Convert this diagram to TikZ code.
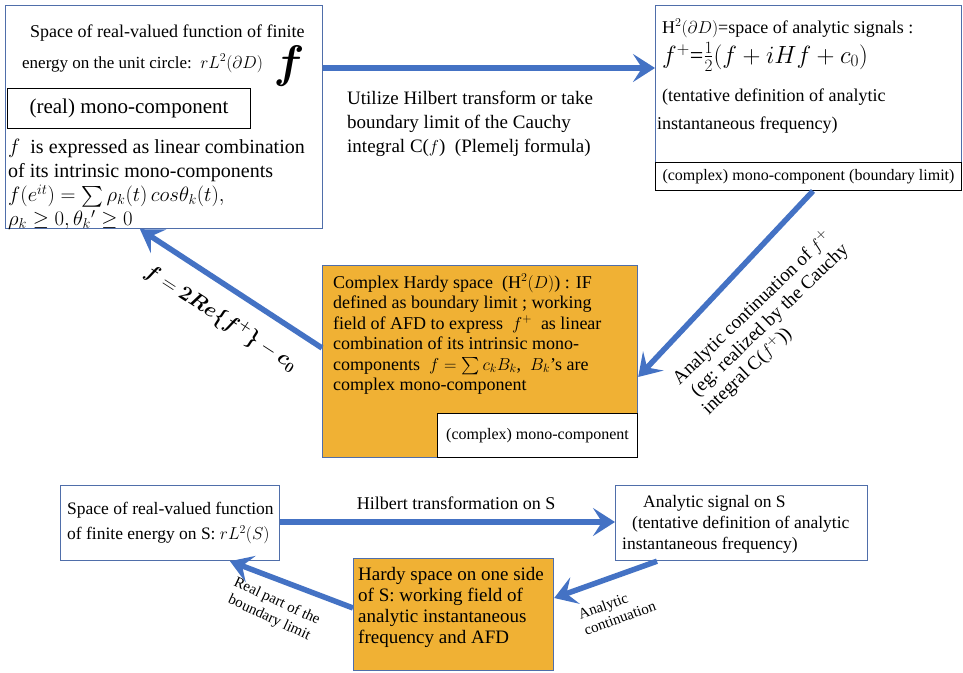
\documentclass[tikz,border=0pt]{standalone}
\usepackage{amsmath}
\usepackage{bm}
\usepackage{fontspec}
\setmainfont{Liberation Serif}
\usetikzlibrary{arrows.meta}
\definecolor{arrowblue}{RGB}{68,114,196}
\definecolor{boxblue}{RGB}{79,110,170}
\definecolor{hardy}{RGB}{240,177,52}
\newcommand{\fsz}[2]{\fontsize{#1}{#2}\selectfont}
\tikzset{
 bigarrow/.style={draw=arrowblue, line width=5.5pt, -{Stealth[length=22pt,width=28pt,inset=9pt]}},
 bluebox/.style={draw=boxblue, line width=1.2pt, inner sep=0pt, anchor=north west},
 blackbox/.style={draw=black, line width=1pt, inner sep=0pt, anchor=north west},
 orangebox/.style={bluebox, fill=hardy},
 txt/.style={inner sep=0pt, anchor=north west, align=left},
}
\begin{document}
\begin{tikzpicture}[x=1pt,y=-1pt]
\useasboundingbox (0,0) rectangle (963,672);
\fill[white] (0,0) rectangle (963,672);

% top-left
\node[bluebox, minimum width=317pt, minimum height=223pt] (tl) at (5,5) {};
\node[blackbox, fill=white, minimum width=243pt, minimum height=40pt, font=\fsz{21}{24}] (tlmono) at (7,88) {(real) mono-component};
\node[txt, font=\fsz{18}{21}] (tl1) at (30,25) {Space of real-valued function of finite};
\node[txt, font=\fsz{17}{20}] (tl2) at (22,54) {energy on the unit circle:\ \ $rL^2(\partial D)$};
\node[inner sep=0pt, font=\fsz{20}{20}, scale=2.2] (bigf) at (289,66) {$\bm{f}$};
\node[txt, font=\fsz{20}{24}] (tlbody) at (8,139) {$f$\ \ is expressed as linear combination\\ of its intrinsic mono-components\\ $f(e^{it})=\sum\rho_k(t)\,cos\theta_k(t),$\\ $\rho_k\geq 0,\theta_k{}'\geq 0$};

% top-right
\node[bluebox, minimum width=306pt, minimum height=157pt] (tr) at (655,5) {};
\node[blackbox, fill=white, minimum width=306pt, minimum height=28pt, font=\fsz{16}{18}] (trmono) at (655,162) {(complex) mono-component (boundary limit)};
\node[txt, font=\fsz{18}{21}] (tr1) at (662,19) {H$^2(\partial D)$=space of analytic signals\ :};
\node[txt, font=\fsz{24}{26}] (tr2) at (662,42) {$f^+$=$\frac{1}{2}(f+iHf+c_0)$};
\node[txt, font=\fsz{18}{28}] (tr3) at (657,89) {\hspace{5pt}(tentative definition of analytic\\instantaneous frequency)};

% top arrow label
\node[txt, font=\fsz{19}{24}] (lblut) at (347,91) {Utilize Hilbert transform or take\\ boundary limit of the Cauchy\\ integral C($f$)\ \ (Plemelj formula)};

% middle orange
\node[orangebox, minimum width=315pt, minimum height=192pt] (mo) at (322,265) {};
\node[blackbox, fill=white, minimum width=200pt, minimum height=44pt, font=\fsz{16}{18}] (momono) at (437,413) {(complex) mono-component};
\node[txt, font=\fsz{18}{20.5}] (mot) at (333,274) {Complex Hardy space\ \ (H$^2(D)$)\ : IF\\ defined as boundary limit\ ; working\\ field of AFD to express\ \ $f^+$\ \ as linear\\ combination of its intrinsic mono-\\ components\ \ $f=\sum c_kB_k$,\ \ $B_k$'s are\\ complex mono-component};

% bottom boxes
\node[bluebox, minimum width=219pt, minimum height=75pt] (bl) at (60,485) {};
\node[txt, font=\fsz{17.5}{25}] (blt) at (67,502) {Space of real-valued function\\ of finite energy on S: $rL^2(S)$};
\node[bluebox, minimum width=252pt, minimum height=75pt] (br) at (615,485) {};
\node[txt, font=\fsz{17.5}{21}] (brt) at (622,495) {\hspace{21pt}Analytic signal on S\\ \hspace{10pt}(tentative definition of analytic\\ instantaneous frequency)};
\node[orangebox, minimum width=200pt, minimum height=112pt] (bo) at (353,558) {};
\node[txt, font=\fsz{19}{21}] (bot) at (358,567) {Hardy space on one side\\ of S: working field of\\ analytic instantaneous\\ frequency and AFD};

% arrows
\draw[bigarrow] ([yshift=-63pt]tl.north east) -- ([yshift=-63pt]tr.north west);
\draw[bigarrow] ([xshift=158pt]trmono.south west) -- ([yshift=-112pt]mo.north east);
\draw[bigarrow] ([yshift=-83pt]mo.north west) -- ([xshift=135pt]tl.south west);
\draw[bigarrow] ([yshift=-37pt]bl.north east) -- ([yshift=-37pt]br.north west);
\draw[bigarrow] ([xshift=42pt]br.south west) -- ([yshift=-40pt]bo.north east);
\draw[bigarrow] ([yshift=-50pt]bo.north west) -- ([xshift=170pt]bl.south west);

% arrow labels
\node[font=\fsz{19}{21}, rotate=44, align=left] (lblac) at (768,322) {Analytic continuation of $f^+$\\ \ (eg: realized by the Cauchy\\ integral C($f^+$))};
\node[font=\fsz{22}{24}, rotate=-33] (lblre) at (221,318) {$\bm{f}=\bm{2}\bm{Re}\bm{\{}\bm{f}^{\bm{+}}\bm{\}}-\bm{c}_{\bm{0}}$};
\node[font=\fsz{18}{20}] (lblhs) at (456,503) {Hilbert transformation on S};
\node[font=\fsz{15}{17}, rotate=20, align=left] (lblac2) at (617,610) {Analytic\\continuation};
\node[font=\fsz{15}{18}, rotate=-25, align=center] (lblrp) at (273,610) {Real part of the\\boundary limit};
\end{tikzpicture}
\end{document}
